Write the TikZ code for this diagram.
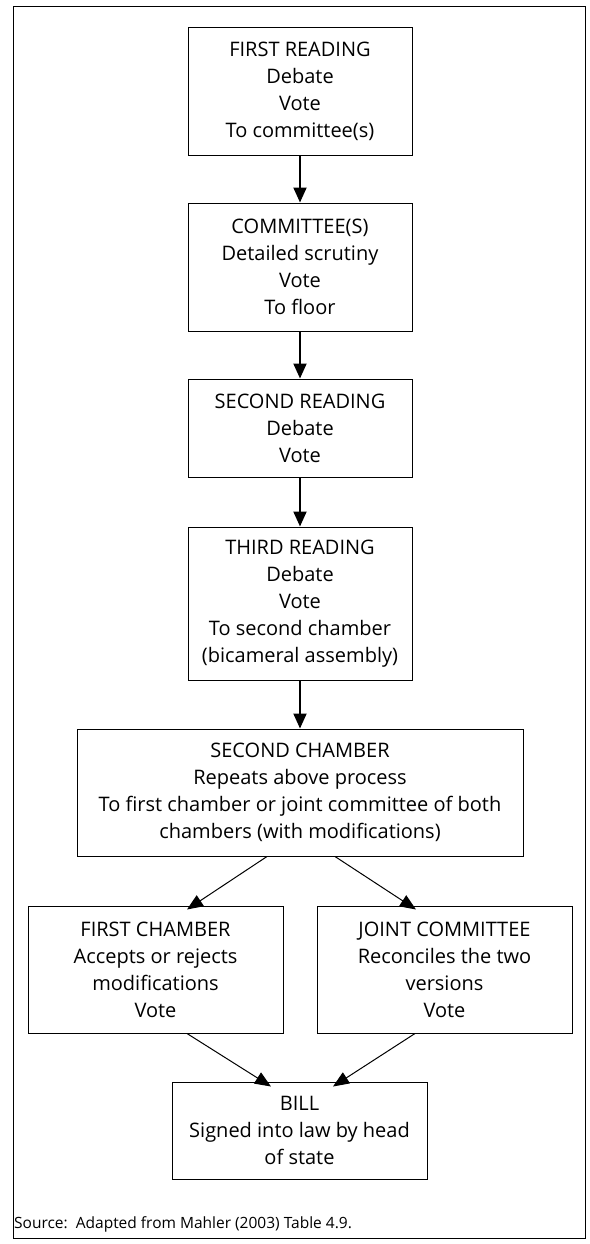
\documentclass[tikz,border=0pt]{standalone}
\usepackage{fontspec}
\setmainfont{Open Sans}
\usetikzlibrary{arrows.meta,calc}
\begin{document}
\begin{tikzpicture}[x=1pt,y=-1pt,
  stepbox/.style={draw=black,line width=1pt,inner sep=0pt,align=center,
    font=\fontsize{20}{27}\selectfont},
  vflow/.style={line width=2pt,-{Triangle[length=15pt,width=13pt]}},
  dflow/.style={line width=1pt,-{Triangle[length=16pt,width=13pt]}}]
\useasboundingbox (0,0) rectangle (589,1244);
\draw[line width=1pt] (13,7) rectangle (585,1238);
\node[stepbox,minimum width=224pt,minimum height=127pt] (n1) at (300,91.5)
  {FIRST READING\\Debate\\Vote\\To committee(s)};
\node[stepbox,minimum width=224pt,minimum height=128pt] (n2) at (300,267)
  {COMMITTEE(S)\\Detailed scrutiny\\Vote\\To floor};
\node[stepbox,minimum width=224pt,minimum height=98pt] (n3) at (300,428)
  {SECOND READING\\Debate\\Vote};
\node[stepbox,minimum width=224pt,minimum height=153pt] (n4) at (300,603.5)
  {THIRD READING\\Debate\\Vote\\To second chamber\\(bicameral assembly)};
\node[stepbox,minimum width=446pt,minimum height=127pt] (n5) at (300,792.5)
  {SECOND CHAMBER\\Repeats above process\\To first chamber or joint committee of both\\chambers (with modifications)};
\node[stepbox,minimum width=255pt,minimum height=127pt] (n6) at (155.5,969.5)
  {FIRST CHAMBER\\Accepts or rejects\\modifications\\Vote};
\node[stepbox,minimum width=255pt,minimum height=127pt] (n7) at (444.5,969.5)
  {JOINT COMMITTEE\\Reconciles the two\\versions\\Vote};
\node[stepbox,minimum width=255pt,minimum height=97pt] (n8) at (299.5,1130.5)
  {BILL\\Signed into law by head\\of state};
\node[anchor=base west,inner sep=0pt,font=\fontsize{15.5}{18}\selectfont] (src) at (14,1228)
  {Source:\ \ Adapted from Mahler (2003) Table 4.9.};
\draw[vflow] (n1.south) -- (n2.north);
\draw[vflow] (n2.south) -- (n3.north);
\draw[vflow] (n3.south) -- (n4.north);
\draw[vflow] (n4.south) -- (n5.north);
\draw[dflow] ([xshift=-33pt]n5.south) -- ([xshift=31.5pt,yshift=-4pt]n6.north);
\draw[dflow] ([xshift=35pt]n5.south) -- ([xshift=-28.5pt,yshift=-4pt]n7.north);
\draw[dflow] ([xshift=31.5pt]n6.south) -- ([xshift=-28.5pt,yshift=-5pt]n8.north);
\draw[dflow] ([xshift=-29.5pt]n7.south) -- ([xshift=33.5pt,yshift=-5pt]n8.north);
\end{tikzpicture}
\end{document}
